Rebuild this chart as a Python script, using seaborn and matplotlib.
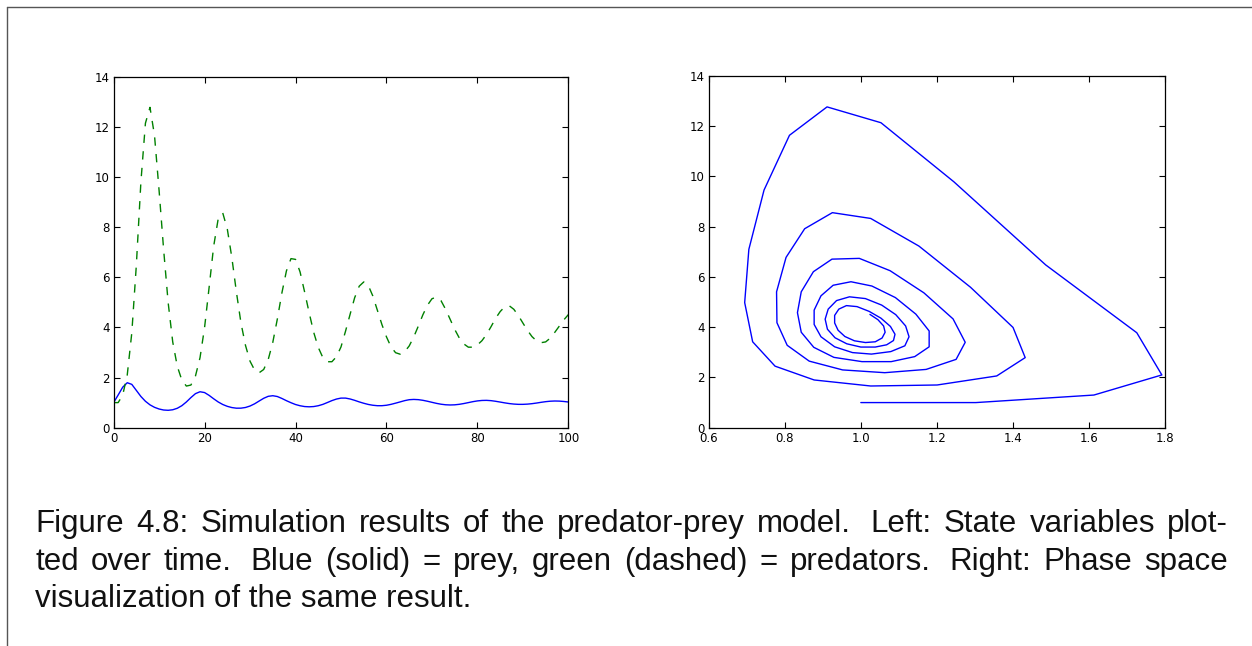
import matplotlib
matplotlib.use("Agg")
import matplotlib.pyplot as plt
import pandas as pd
import seaborn as sns
from matplotlib.lines import Line2D

# ---- data (one value per time step) ----
time = list(range(101))
prey = [1.000, 1.303, 1.614, 1.793, 1.727, 1.487, 1.245, 1.053, 0.911, 0.812,
        0.745, 0.705, 0.694, 0.715, 0.774, 0.877, 1.026, 1.201, 1.358, 1.433,
        1.401, 1.289, 1.153, 1.026, 0.925, 0.852, 0.803, 0.778, 0.779, 0.806,
        0.864, 0.952, 1.063, 1.172, 1.251, 1.275, 1.243, 1.166, 1.077, 0.996,
        0.924, 0.875, 0.843, 0.833, 0.843, 0.876, 0.929, 1.003, 1.080, 1.142,
        1.180, 1.180, 1.145, 1.091, 1.029, 0.974, 0.927, 0.895, 0.877, 0.877,
        0.895, 0.931, 0.978, 1.028, 1.079, 1.116, 1.127, 1.118, 1.092, 1.055,
        1.012, 0.970, 0.936, 0.914, 0.906, 0.912, 0.932, 0.963, 1.000, 1.038,
        1.068, 1.086, 1.090, 1.078, 1.053, 1.022, 0.990, 0.962, 0.942, 0.931,
        0.931, 0.940, 0.958, 0.983, 1.012, 1.038, 1.056, 1.064, 1.060, 1.045,
        1.024]
predators = [1.00, 1.00, 1.30, 2.10, 3.78, 6.48, 9.79, 12.14, 12.77, 11.64,
             9.46, 7.10, 4.98, 3.42, 2.45, 1.90, 1.66, 1.70, 2.06, 2.79,
             3.99, 5.59, 7.23, 8.33, 8.56, 7.92, 6.78, 5.41, 4.18, 3.28,
             2.65, 2.30, 2.19, 2.32, 2.72, 3.40, 4.33, 5.37, 6.25, 6.74,
             6.71, 6.21, 5.41, 4.58, 3.80, 3.20, 2.80, 2.63, 2.63, 2.83,
             3.22, 3.85, 4.52, 5.18, 5.64, 5.81, 5.67, 5.25, 4.68, 4.11,
             3.62, 3.22, 2.99, 2.93, 3.03, 3.26, 3.62, 4.05, 4.50, 4.88,
             5.14, 5.21, 5.06, 4.72, 4.32, 3.92, 3.58, 3.34, 3.21, 3.21,
             3.30, 3.47, 3.72, 4.03, 4.36, 4.63, 4.82, 4.86, 4.72, 4.47,
             4.17, 3.88, 3.63, 3.46, 3.39, 3.42, 3.57, 3.80, 4.05, 4.30,
             4.51]
left_xticks = [0, 20, 40, 60, 80, 100]
right_xticks = [0.6, 0.8, 1.0, 1.2, 1.4, 1.6, 1.8]
right_xticklabels = ["0.6", "0.8", "1.0", "1.2", "1.4", "1.6", "1.8"]
yticks = [0, 2, 4, 6, 8, 10, 12, 14]
caption_lines = [
    "Figure 4.8: Simulation results of the predator-prey model. Left: State variables plot-",
    "ted over time. Blue (solid) = prey, green (dashed) = predators. Right: Phase space",
    "visualization of the same result.",
]

df = pd.DataFrame({"t": time, "prey": prey, "predators": predators})

sns.set_theme(style="white")
plt.rcParams["font.family"] = ["DejaVu Sans"]

W, H = 1252, 646
fig = plt.figure(figsize=(W / 100, H / 100), dpi=100)
fig.patch.set_facecolor("white")

def px_axes(x0, x1, ytop, ybot):
    return [x0 / W, 1 - ybot / H, (x1 - x0) / W, (ybot - ytop) / H]

ax1 = fig.add_axes(px_axes(113.6, 568.4, 76.5, 427.7))
ax2 = fig.add_axes(px_axes(709.0, 1164.5, 76.0, 427.7))

sns.lineplot(data=df, x="t", y="prey", ax=ax1, color="#0000ff", lw=1.0)
sns.lineplot(data=df, x="t", y="predators", ax=ax1, color="#008000", lw=1.0)
ax1.lines[-1].set_dashes([6, 6])

sns.lineplot(data=df, x="prey", y="predators", ax=ax2, sort=False,
             estimator=None, color="#0000ff", lw=1.0)

ax1.set_xlim(0, 100)
ax1.set_xticks(left_xticks)
ax2.set_xlim(0.6, 1.8)
ax2.set_xticks(right_xticks)
ax2.set_xticklabels(right_xticklabels)

for ax in (ax1, ax2):
    ax.set_ylim(0, 14)
    ax.set_yticks(yticks)
    ax.set_xlabel("")
    ax.set_ylabel("")
    ax.set_facecolor("white")
    ax.grid(False)
    ax.tick_params(direction="in", length=4, width=0.8, top=True, right=True,
                   bottom=True, left=True, labelsize=8.5, colors="black",
                   pad=3)
    for s in ax.spines.values():
        s.set_visible(True)
        s.set_color("black")
        s.set_linewidth(0.9)

# page frame lines
fig.add_artist(Line2D([7 / W, 1.0], [1 - 7 / H, 1 - 7 / H],
                      transform=fig.transFigure, color="#555555", lw=1.0))
fig.add_artist(Line2D([7 / W, 7 / W], [1 - 7 / H, 0.0],
                      transform=fig.transFigure, color="#555555", lw=1.0))

# caption, justified like the original
cap_font = dict(fontsize=22.5, family=["Liberation Sans", "DejaVu Sans"], color="#111111")
fig.canvas.draw()
renderer = fig.canvas.get_renderer()
x_left, x_right = 35.0, 1228.0
baselines = [532.0, 570.0, 607.0]
for i, line in enumerate(caption_lines):
    y = 1 - baselines[i] / H
    if i == len(caption_lines) - 1:
        fig.text(x_left / W, y, line, ha="left", va="baseline", **cap_font)
        continue
    words = line.split(" ")
    texts, widths = [], []
    for w in words:
        t = fig.text(0, y, w, ha="left", va="baseline", **cap_font)
        texts.append(t)
        widths.append(t.get_window_extent(renderer).width)
    weights = [1.6 if w.endswith(".") else 1.0 for w in words[:-1]]
    free = (x_right - x_left) - sum(widths)
    unit = free / sum(weights)
    x = x_left
    for j, t in enumerate(texts):
        t.set_x(x / W)
        if j < len(weights):
            x += widths[j] + unit * weights[j]

fig.savefig("out.png", dpi=100, facecolor="white")
